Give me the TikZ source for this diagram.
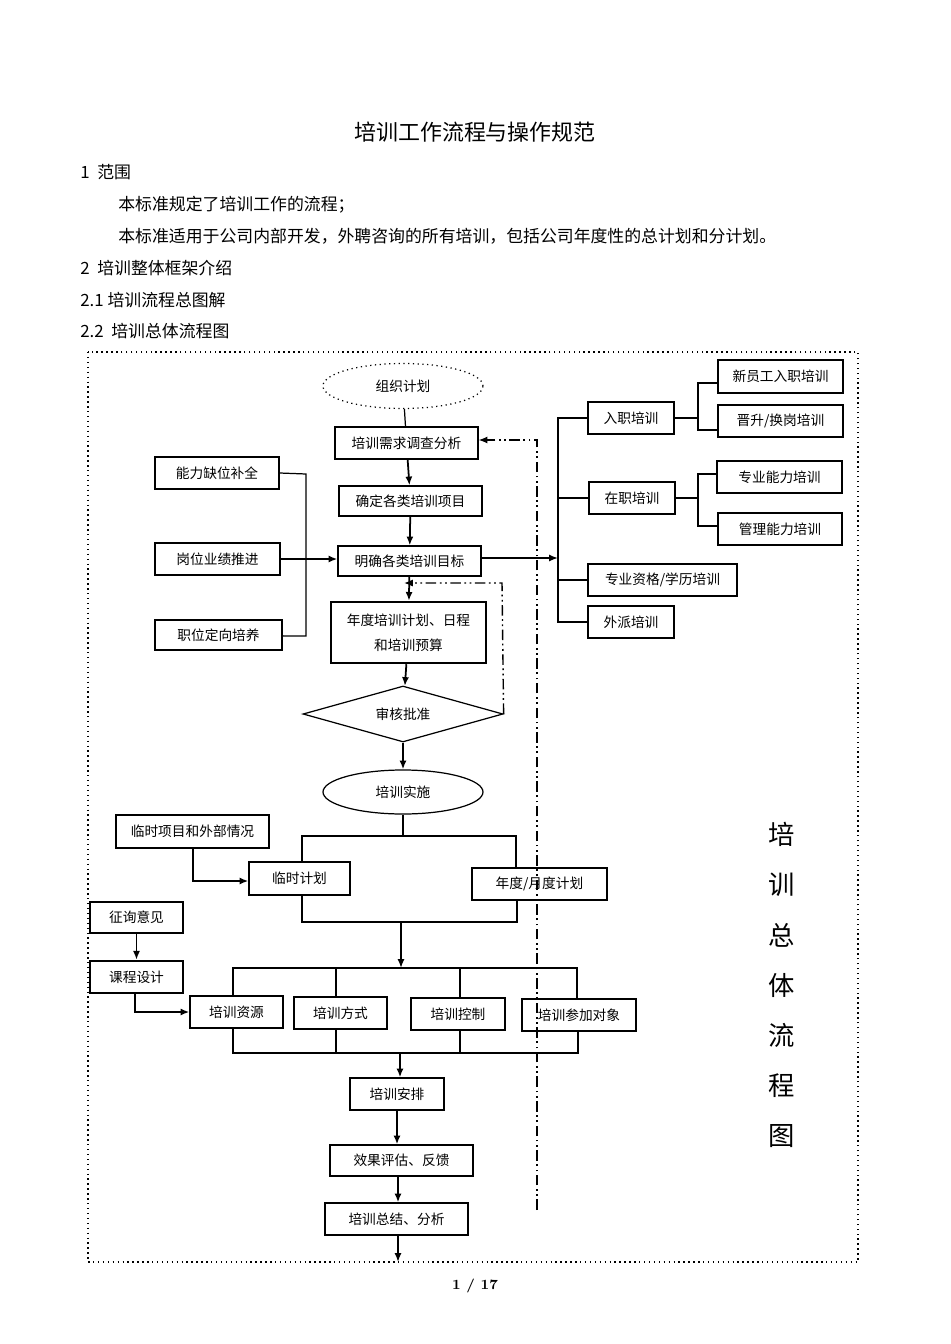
\documentclass[tikz,border=0pt]{standalone}
\usepackage{fontspec}
\newfontfamily\cjk{Noto Sans CJK SC}
\usetikzlibrary{shapes.geometric,arrows.meta}
\newcommand\bx[7][]{\node[box,#1,minimum width={(#5-#3)*0.02cm},minimum height={(#6-#4)*0.02cm}] (#2) at ({(#3+#5)/2},{(#4+#6)/2}) {#7};}
\begin{document}
\begin{tikzpicture}[x=0.02cm,y=-0.02cm,
  box/.style={draw,line width=0.7pt,inner sep=0pt,font=\cjk\fontsize{7.8}{9}\selectfont},
  thick box/.style={line width=1.4pt},
  body/.style={anchor=west,font=\cjk\fontsize{9.6}{11}\selectfont,inner sep=0pt},
  arr/.style={-{Latex[length=5pt,width=4pt]},line width=1pt},
  ln/.style={line width=0.7pt},
  dd/.style={line width=0.8pt,dash pattern=on 6pt off 2pt on 1pt off 2pt on 1pt off 2pt}]
\useasboundingbox (0,0) rectangle (950,1344);
\node[font=\cjk\fontsize{12.5}{14}\selectfont] (title) at (475,132) {培训工作流程与操作规范};
\node[body] (s1) at (80,172) {1\ \ 范围};
\node[body] (p1) at (118,205) {本标准规定了培训工作的流程；};
\node[body] (p2) at (118,236) {本标准适用于公司内部开发，外聘咨询的所有培训，包括公司年度性的总计划和分计划。};
\node[body] (s2) at (80,268) {2\ \ 培训整体框架介绍};
\node[body] (s21) at (80,300) {2.1 培训流程总图解};
\node[body] (s22) at (80,331) {2.2\ \ 培训总体流程图};
\draw[line width=0.8pt,dotted] (88,352) rectangle (858,1262);
% main column
\node[box,ellipse,dotted,minimum width=160*0.02cm,minimum height=45*0.02cm] (org) at (403,386) {组织计划};
\bx{need}{335}{427}{478}{459}{培训需求调查分析}
\bx{item}{339}{486}{482}{516}{确定各类培训项目}
\bx{goal}{338}{546}{481}{576}{明确各类培训目标}
\bx[thick box,align=center,font=\cjk\fontsize{7.8}{14}\selectfont]{plan}{331}{602}{486}{663}{年度培训计划、日程\\和培训预算}
\node[box,diamond,aspect=3.6,minimum width=200*0.02cm,minimum height=56*0.02cm] (appr) at (403,714) {审核批准};
\node[box,ellipse,minimum width=160*0.02cm,minimum height=44*0.02cm] (impl) at (403,792) {培训实施};
\draw[ln] (org) -- (need);
\draw[arr] (need) -- (item);
\draw[arr] (item) -- (goal);
\draw[arr] (goal) -- (plan);
\draw[arr] (plan) -- (appr);
\draw[arr] (appr) -- (impl);
% left inputs
\bx{a1}{155}{457}{279}{489}{能力缺位补全}
\bx{a2}{155}{543}{280}{575}{岗位业绩推进}
\bx{a3}{155}{620}{282}{650}{职位定向培养}
\draw[ln] (a1.east) -- (306,474) |- (a3.east |- 0,636) -- (a3.east);
\draw[arr] (a2.east) -- (goal.west |- a2.east);
% right branches
\coordinate (rj) at (558,558);
\draw[arr] (goal.east |- rj) -- (rj);
\bx{r1}{588}{402}{674}{434}{入职培训}
\bx[thick box]{r2}{589}{482}{675}{514}{在职培训}
\bx{r3}{588}{564}{737}{596}{专业资格/学历培训}
\bx{r4}{588}{606}{674}{638}{外派培训}
\draw[ln] (r1.west) -- (558,418) -- (558,622) -- (r4.west);
\draw[ln] (558,498) -- (r2.west);
\draw[ln] (558,580) -- (r3.west);
\bx{q1}{718}{360}{843}{393}{新员工入职培训}
\bx{q2}{718}{405}{843}{437}{晋升/换岗培训}
\bx[thick box]{q3}{717}{461}{842}{493}{专业能力培训}
\bx[thick box]{q4}{718}{513}{842}{545}{管理能力培训}
\draw[ln] (r1.east) -- (698,418);
\draw[ln] (q1.west |- 0,383) -- (698,383) -- (698,430) -- (q2.west |- 0,430);
\draw[ln] (r2.east) -- (698,498);
\draw[ln] (q3.west |- 0,474) -- (698,474) -- (698,526) -- (q4.west |- 0,526);
% feedback dash-dot
\coordinate (fb1) at (537,1210);
\draw[dd,-{Latex[length=5pt,width=4pt]}] (fb1) -- (537,440) -- (need.east |- 0,440);
\draw[dd,-{Latex[length=5pt,width=4pt]}] (appr.east) -- (502,583) -- (404,583);
% lower section
\bx{tmp}{249}{862}{350}{895}{临时计划}
\bx{ann}{472}{868}{607}{900}{年度/月度计划}
\bx{ext}{116}{815}{269}{848}{临时项目和外部情况}
\draw[ln] (impl) -- (403,836);
\draw[ln] (302,862) -- (302,836) -- (516,836) -- (516,868);
\draw[arr] (193,848) -- (193,881) -- (tmp.west |- 0,881);
\draw[ln] (302,895) -- (302,922) -- (517,922) -- (517,900);
\coordinate (dist) at (401,968);
\draw[arr] (401,922) -- (dist);
\bx{c1}{190}{996}{283}{1028}{培训资源}
\bx{c2}{294}{997}{387}{1029}{培训方式}
\bx{c3}{411}{998}{505}{1030}{培训控制}
\bx{c4}{522}{999}{636}{1031}{培训参加对象}
\draw[ln] (233,996) -- (233,968) -- (577,968) -- (577,1000);
\draw[ln] (336,968) -- (336,997);
\draw[ln] (460,968) -- (460,998);
\draw[ln] (233,1028) -- (233,1053) -- (578,1053) -- (578,1031);
\draw[ln] (336,1029) -- (336,1053);
\draw[ln] (460,1030) -- (460,1053);
\bx{arr1}{350}{1078}{444}{1110}{培训安排}
\bx{eval}{330}{1145}{473}{1176}{效果评估、反馈}
\bx{summ}{325}{1203}{468}{1235}{培训总结、分析}
\draw[arr] (400,1053) -- (arr1.north -| 400,0);
\draw[arr] (arr1) -- (eval.north -| arr1.south);
\draw[arr] (eval.south -| 398,0) -- (summ.north -| 398,0);
\coordinate (endp) at (398,1262);
\draw[arr] (summ.south -| endp) -- (endp);
\bx[thick box]{ask}{90}{902}{183}{933}{征询意见}
\bx[thick box]{course}{90}{961}{183}{993}{课程设计}
\draw[arr] (ask) -- (course);
\draw[arr] (135,993) -- (135,1012) -- (c1.west |- 0,1012);
% vertical label
\node[font=\cjk\fontsize{15}{28.5}\selectfont,align=center] (vt) at (782,985) {培\\训\\总\\体\\流\\程\\图};
\node[font=\bfseries\fontsize{8}{9}\selectfont] (pg) at (475,1286) {1 / 17};
\end{tikzpicture}
\end{document}
